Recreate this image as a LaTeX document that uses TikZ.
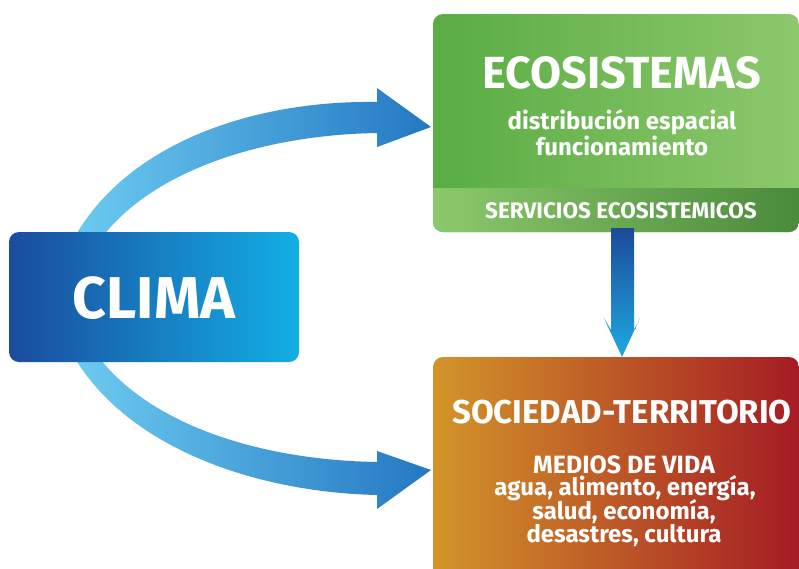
\documentclass[tikz,border=0pt]{standalone}
\usepackage{fontspec}
\setmainfont{Fira Sans}
\definecolor{climaL}{HTML}{1B4C9E}
\definecolor{climaM}{HTML}{1A73BB}
\definecolor{climaR}{HTML}{13AEE4}
\definecolor{ecoL}{HTML}{5AAC44}
\definecolor{ecoR}{HTML}{8DC86C}
\definecolor{bandL}{HTML}{8AC96B}
\definecolor{bandR}{HTML}{4A8A3C}
\definecolor{socL}{HTML}{D3952A}
\definecolor{socM}{HTML}{BF5A28}
\definecolor{socR}{HTML}{A51B24}
\definecolor{arrL}{HTML}{6CCBF1}
\definecolor{arrR}{HTML}{2478C2}
\definecolor{vT}{HTML}{1D4A9B}
\definecolor{vB}{HTML}{1EA9E1}
\begin{document}
\begin{tikzpicture}[x=1pt,y=-1pt,
  txt/.style={text=white, font=\bfseries, anchor=base, inner sep=0pt},
  box/.style={rounded corners=10pt, inner sep=0pt, draw=none}]
\clip (0,0) rectangle (799,568);
\fill[white] (0,0) rectangle (799,568);

% curved arrows (behind the boxes)
\shade[left color=arrL, right color=arrR]
  (73,240) .. controls (125,145) and (250,100) .. (377,102)
  -- (377,88) -- (431,127) -- (377,147) -- (377,133)
  .. controls (260,135) and (150,172) .. (100,240) -- cycle;
\shade[left color=arrL, right color=arrR]
  (73,355) .. controls (125,445) and (250,492) .. (377,495)
  -- (377,509) -- (431,470) -- (377,451) -- (377,462)
  .. controls (260,460) and (150,425) .. (97,355) -- cycle;

% boxes
\node[box, minimum width=290pt, minimum height=130pt,
  left color=climaL, middle color=climaM, right color=climaR] (clima) at (154,297) {};
\node[box, minimum width=366pt, minimum height=218pt,
  left color=ecoL, right color=ecoR] (eco) at (616,123) {};
\begin{scope}
  \clip[rounded corners=10pt] (433,14) rectangle (799,232);
  \shade[left color=bandL, right color=bandR] (433,188) rectangle (799,232);
\end{scope}
\node[box, minimum width=366pt, minimum height=230pt,
  left color=socL, middle color=socM, right color=socR] (soc) at (616,472) {};

% vertical arrow
\shade[top color=vT, bottom color=vB]
  (611,228) -- (634,228) -- (634,330) -- (640,318) -- (622,357)
  -- (604,318) -- (611,330) -- cycle;

% texts
\node[txt, font=\bfseries\fontsize{59}{60}\selectfont] (tclima) at (154,318) {CLIMA};
\node[txt, font=\bfseries\fontsize{45}{47}\selectfont] (teco) at (622,88) {ECOSISTEMAS};
\node[txt, font=\bfseries\fontsize{24}{26}\selectfont] (tdist) at (622,129) {distribución espacial};
\node[txt, font=\bfseries\fontsize{24}{26}\selectfont] (tfunc) at (622,155) {funcionamiento};
\node[txt, font=\bfseries\fontsize{22.5}{24}\selectfont] (tserv) at (621,218) {SERVICIOS ECOSISTEMICOS};
\node[txt, font=\bfseries\fontsize{33}{35}\selectfont] (tsoc) at (622,423) {SOCIEDAD-TERRITORIO};
\node[txt, font=\bfseries\fontsize{25}{27}\selectfont] (tmed) at (624,473) {MEDIOS DE VIDA};
\node[txt, font=\bfseries\fontsize{24}{26}\selectfont] (tagua) at (625,495) {agua, alimento, energía,};
\node[txt, font=\bfseries\fontsize{24}{26}\selectfont] (tsal) at (624,519) {salud, economía,};
\node[txt, font=\bfseries\fontsize{24}{26}\selectfont] (tdes) at (624,542) {desastres, cultura};
\end{tikzpicture}
\end{document}
